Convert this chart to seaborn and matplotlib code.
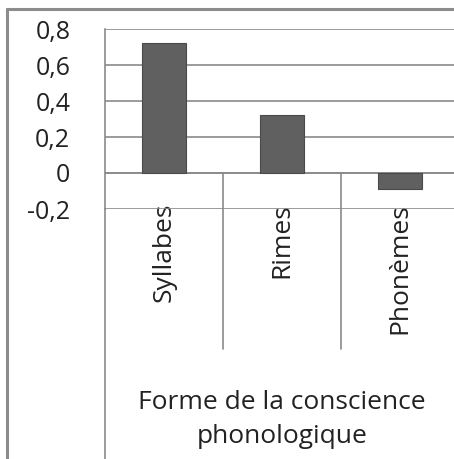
import matplotlib
matplotlib.use("Agg")
import matplotlib.pyplot as plt
import matplotlib.transforms as mtransforms
from matplotlib.lines import Line2D
import seaborn as sns

sns.set_style("white")
plt.rcParams["font.family"] = ["Open Sans", "DejaVu Sans"]

# Data
categories = ["Syllabes", "Rimes", "Phonèmes"]
values = [0.72, 0.32, -0.09]
y_ticks = [-0.2, 0, 0.2, 0.4, 0.6, 0.8]
y_tick_labels = ["-0,2", "0", "0,2", "0,4", "0,6", "0,8"]
axis_title = "Forme de la conscience\nphonologique"

W, H = 454, 459
fig = plt.figure(figsize=(W / 100, H / 100), dpi=100)

# plot area in pixels: x 105 -> 454, y 29 (0.8) -> 209 (-0.2)
left, right, top, bottom = 105, 454, 29, 209
ax = fig.add_axes([left / W, 1 - bottom / H, (right - left) / W, (bottom - top) / H])

grid_color = "#8a8a8a"
bar_color = "#606060"
text_color = "#222222"

sns.barplot(x=categories, y=values, color=bar_color, width=0.38,
            edgecolor="#4a4a4a", linewidth=0.8, saturation=1, ax=ax, zorder=3)

cat_w = 118.0
ax.set_xlim(-0.5, -0.5 + (right - left) / cat_w)
ax.set_ylim(-0.2, 0.8)

ax.set_yticks(y_ticks)
ax.set_yticklabels(y_tick_labels)
ax.yaxis.grid(True, color=grid_color, linewidth=1.2, zorder=0)
ax.xaxis.grid(False)
ax.tick_params(axis="y", which="major", length=10, width=1.2, color=grid_color,
               direction="out", pad=15, labelsize=18, labelcolor=text_color)
ax.tick_params(axis="x", length=0, pad=-4.5, labelsize=19, labelcolor=text_color)
ax.set_xticks(range(len(categories)))
ax.set_xticklabels(categories, rotation=90, va="top", ha="center")

for s in ["top", "right", "bottom"]:
    ax.spines[s].set_visible(False)
ax.spines["left"].set_color(grid_color)
ax.spines["left"].set_linewidth(1.2)

# zero line (category axis)
ax.axhline(0, color=grid_color, linewidth=1.2, zorder=2)

# category separators and extended value axis (multi-level label area)
trans = mtransforms.blended_transform_factory(ax.transData, ax.transAxes)
sep_bottom = -(349 - bottom) / (bottom - top)
for xs in [0.5, 1.5]:
    ax.add_line(Line2D([xs, xs], [0.2, sep_bottom], transform=trans,
                       color=grid_color, linewidth=1.2, clip_on=False))
axis_bottom = -(H + 5 - bottom) / (bottom - top)
ax.add_line(Line2D([0, 0], [0, axis_bottom], transform=ax.transAxes,
                   color=grid_color, linewidth=1.2, clip_on=False))

ax.set_xlabel(axis_title, fontsize=19, color=text_color, linespacing=1.5)
ax.xaxis.set_label_coords((282 - left) / (right - left), -(390 - bottom) / (bottom - top))
ax.xaxis.label.set_va("top")

# chart border (cropped: only left and top visible)
fig.add_artist(Line2D([7 / W, 7 / W], [0, 1 - 9 / H], transform=fig.transFigure,
                      color="#8c8c8c", linewidth=2.2))
fig.add_artist(Line2D([7 / W, 1], [1 - 9 / H, 1 - 9 / H], transform=fig.transFigure,
                      color="#8c8c8c", linewidth=2.2))

fig.savefig("out.png", dpi=100)
